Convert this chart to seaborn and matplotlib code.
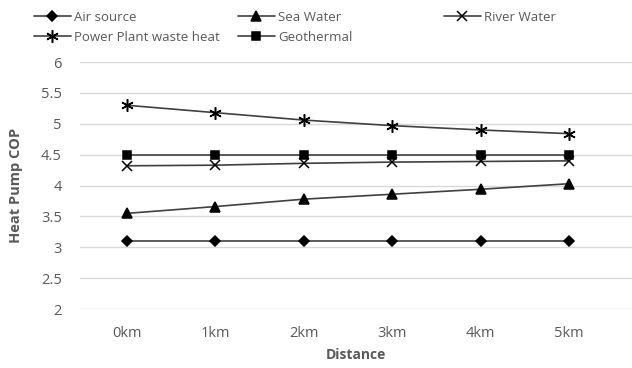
import matplotlib
matplotlib.use("Agg")
from matplotlib import pyplot as plt
import seaborn as sns
import pandas as pd

distances = ["0km", "1km", "2km", "3km", "4km", "5km"]
air_source = [3.11, 3.11, 3.11, 3.11, 3.11, 3.11]
sea_water = [3.55, 3.66, 3.78, 3.86, 3.94, 4.03]
river_water = [4.32, 4.33, 4.36, 4.38, 4.39, 4.40]
power_plant = [5.30, 5.18, 5.06, 4.97, 4.90, 4.84]
geothermal = [4.50, 4.50, 4.50, 4.50, 4.50, 4.50]

series = [
    ("Air source", air_source, "D", 5),
    ("Sea Water", sea_water, "^", 7),
    ("River Water", river_water, "x", 7),
    ("Power Plant waste heat", power_plant, (6, 2, 0), 9),
    ("Geothermal", geothermal, "s", 6),
]

sns.set_style("white")
plt.rcParams["font.family"] = ["Open Sans", "DejaVu Sans"]
text_grey = "#595959"

fig = plt.figure(figsize=(6.32, 3.68), dpi=100)
ax = fig.add_axes([0.1266, 0.16, 0.8734, 0.6715])

x_pos = list(range(len(distances)))
for name, vals, mk, ms in series:
    df = pd.DataFrame({"x": x_pos, "y": vals})
    sns.lineplot(data=df, x="x", y="y", ax=ax, color="#404040", linewidth=1.2,
                 marker=mk, markersize=ms, markerfacecolor="black",
                 markeredgecolor="black", markeredgewidth=1.1, label=name,
                 clip_on=False)

ax.set_ylim(2, 6)
ax.set_yticks([2, 2.5, 3, 3.5, 4, 4.5, 5, 5.5, 6])
ax.set_yticklabels(["2", "2.5", "3", "3.5", "4", "4.5", "5", "5.5", "6"])
ax.set_xlim(-0.53, 5.71)
ax.set_xticks(x_pos)
ax.set_xticklabels(distances)
ax.grid(axis="y", color="#d9d9d9", linewidth=1)
ax.set_axisbelow(True)
for s in ax.spines.values():
    s.set_visible(False)
ax.tick_params(axis="x", length=0, labelsize=10.5, colors=text_grey, pad=12)
ax.tick_params(axis="y", length=0, labelsize=10.5, colors=text_grey, pad=13)
ax.set_xlabel("Distance", fontsize=10, fontweight="bold", color=text_grey, labelpad=5)
ax.set_ylabel("Heat Pump COP", fontsize=10.5, fontweight="bold", color=text_grey, labelpad=13)

handles, labels = ax.get_legend_handles_labels()
ax.get_legend().remove()
lookup = dict(zip(labels, handles))

# legend laid out as in the original: three fixed columns, two rows
columns = [(["Air source", "Power Plant waste heat"], 0.045),
           (["Sea Water", "Geothermal"], 0.368),
           (["River Water"], 0.694)]
for names, xa in columns:
    leg = fig.legend([lookup[n] for n in names], names, loc="upper left",
                     bbox_to_anchor=(xa, 0.985), frameon=False, fontsize=9.5,
                     handlelength=2.8, handletextpad=0.25, labelspacing=0.55,
                     borderaxespad=0.2, borderpad=0.2)
    for t in leg.get_texts():
        t.set_color(text_grey)

fig.savefig("out.png", dpi=100)
